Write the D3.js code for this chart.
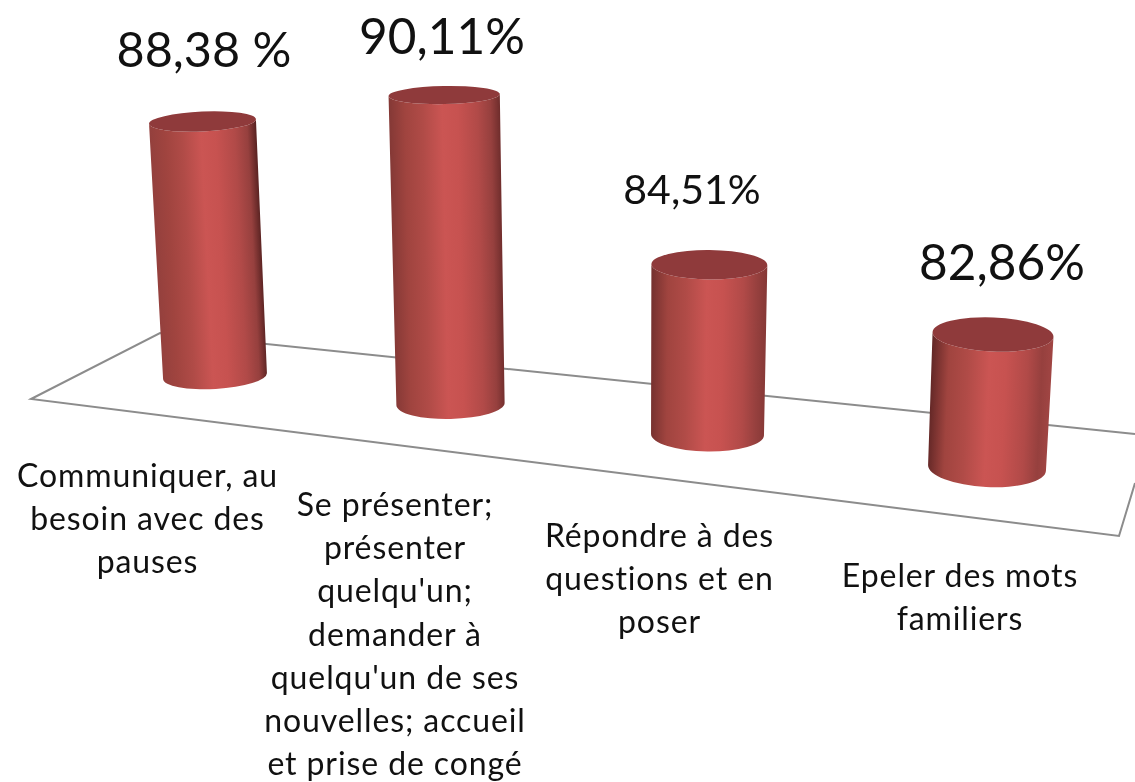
<!DOCTYPE html>
<html>
<head>
<meta charset="utf-8">
<script src="https://cdnjs.cloudflare.com/ajax/libs/d3/7.8.5/d3.min.js"></script>
<style>
html, body { margin: 0; padding: 0; background: #fff; overflow: hidden; }
svg { filter: blur(0.6px); }
text { font-family: Lato, sans-serif; fill: #111; text-anchor: middle; }
</style>
</head>
<body>
<svg id="chart" width="1135" height="782"></svg>
<script>
var categories = ["Communiquer", "Se présenter", "Répondre", "Epeler"];
var values = [88.38, 90.11, 84.51, 82.86];
var valueLabels = ["88,38 %", "90,11%", "84,51%", "82,86%"];
var categoryLines = [
    ["Communiquer, au", "besoin avec des", "pauses"],
    ["Se présenter;", "présenter", "quelqu'un;", "demander à", "quelqu'un de ses", "nouvelles; accueil", "et prise de congé"],
    ["Répondre à des", "questions et en", "poser"],
    ["Epeler des mots", "familiers"]
];

var svg = d3.select("#chart");
var defs = svg.append("defs");

// the floor is in perspective so the columns are not evenly spaced
var x = d3.scaleOrdinal(categories, [215, 450.5, 707.5, 987]);
var floorY = d3.scaleLinear().domain([215, 987]).range([376, 468]);
var height = d3.scaleLinear()
    .domain([82.86, 84.51, 88.38, 90.11])
    .range([133.5, 170, 254.5, 309]);
var radius = d3.scaleLinear().domain([215, 987]).range([52, 59]);
var baseRy = d3.scaleLinear().domain([376, 468]).range([13, 19]);
var topRy = d3.scaleLinear().domain([94, 334]).range([9, 17]);
var labelX = d3.scaleOrdinal(categories, [147.5, 395, 659.5, 960]);
var labelY = d3.scaleOrdinal(categories, [487, 516, 547, 587]);
var valueX = d3.scaleOrdinal(categories, [204, 442, 692, 1002]);
var valueGap = d3.scaleOrdinal(categories, [55, 41, 61, 55]);
var valueSize = d3.scaleOrdinal(categories, [48.5, 49.5, 41, 49.5]);
var leftEdge = d3.scaleLinear().domain([215, 987]).range(["#94403d", "#642827"]);
var rightEdge = d3.scaleLinear().domain([215, 987]).range(["#5c2423", "#a04543"]);

var vanishX = 618;
var leanRate = 0.000122;
var tiltRate = 0.0062;

var floorLine = d3.line();
var floor = [[1135, 483], [1119, 536], [31, 399], [160, 333], [1135, 434]];
svg.append("path")
    .attr("d", floorLine(floor))
    .attr("fill", "none")
    .attr("stroke", "#8c8c8c")
    .attr("stroke-width", 2);

function ellipsePoint(cx, cy, rx, ry, tilt, angle) {
    var a = tilt * Math.PI / 180;
    var px = rx * Math.cos(angle), py = ry * Math.sin(angle);
    return [cx + px * Math.cos(a) - py * Math.sin(a), cy + px * Math.sin(a) + py * Math.cos(a)];
}

var columns = categories.map(function (c, i) {
    var bx = x(c), by = floorY(bx), h = height(values[i]);
    var tx = bx + (bx - vanishX) * leanRate * h, ty = by - h;
    return {
        cat: c, i: i, bx: bx, by: by, tx: tx, ty: ty,
        brx: radius(bx), trx: radius(bx) + 1.5,
        bry: baseRy(by), tryy: topRy(ty),
        tilt: (bx - vanishX) * tiltRate
    };
});

var g = svg.append("g");

columns.forEach(function (d) {
    var dx = d.tx - d.bx, dy = d.ty - d.by, len = Math.sqrt(dx * dx + dy * dy);
    var px = -dy / len, py = dx / len;
    var mx = (d.tx + d.bx) / 2, my = (d.ty + d.by) / 2, r = (d.brx + d.trx) / 2;
    var grad = defs.append("linearGradient")
        .attr("id", "cyl" + d.i)
        .attr("gradientUnits", "userSpaceOnUse")
        .attr("x1", mx - px * r).attr("y1", my - py * r)
        .attr("x2", mx + px * r).attr("y2", my + py * r);
    [[0, leftEdge(d.bx)], [0.14, "#a0443f"], [0.3, "#b04b47"], [0.48, "#cb5553"], [0.62, "#c75250"],
     [0.8, "#b14a48"], [0.92, "#96403e"], [1, rightEdge(d.bx)]].forEach(function (s) {
        grad.append("stop").attr("offset", s[0]).attr("stop-color", s[1]);
    });

    var tl = ellipsePoint(d.tx, d.ty, d.trx, d.tryy, d.tilt, Math.PI);
    var tr = ellipsePoint(d.tx, d.ty, d.trx, d.tryy, d.tilt, 0);
    var bl = ellipsePoint(d.bx, d.by, d.brx, d.bry, d.tilt * 1.3, Math.PI);
    var br = ellipsePoint(d.bx, d.by, d.brx, d.bry, d.tilt * 1.3, 0);

    g.append("path")
        .attr("d", "M" + tl + "L" + bl +
            "A" + d.brx + "," + d.bry + " " + (d.tilt * 1.3) + " 0 0 " + br +
            "L" + tr +
            "A" + d.trx + "," + d.tryy + " " + d.tilt + " 0 1 " + tl + "Z")
        .attr("fill", "url(#cyl" + d.i + ")");

    g.append("ellipse")
        .attr("rx", d.trx)
        .attr("ry", d.tryy)
        .attr("transform", "translate(" + d.tx + "," + d.ty + ") rotate(" + d.tilt + ")")
        .attr("fill", "#8f3a3b");

    svg.append("text")
        .attr("x", valueX(d.cat))
        .attr("y", d.ty - valueGap(d.cat))
        .attr("font-size", valueSize(d.cat))
        .text(valueLabels[d.i]);

    svg.append("text")
        .attr("font-size", 32)
        .attr("letter-spacing", 0.9)
        .selectAll("tspan")
        .data(categoryLines[d.i])
        .enter()
        .append("tspan")
        .attr("x", labelX(d.cat))
        .attr("y", function (t, k) { return labelY(d.cat) + k * 43.2; })
        .text(function (t) { return t; });
});
</script>
</body>
</html>
